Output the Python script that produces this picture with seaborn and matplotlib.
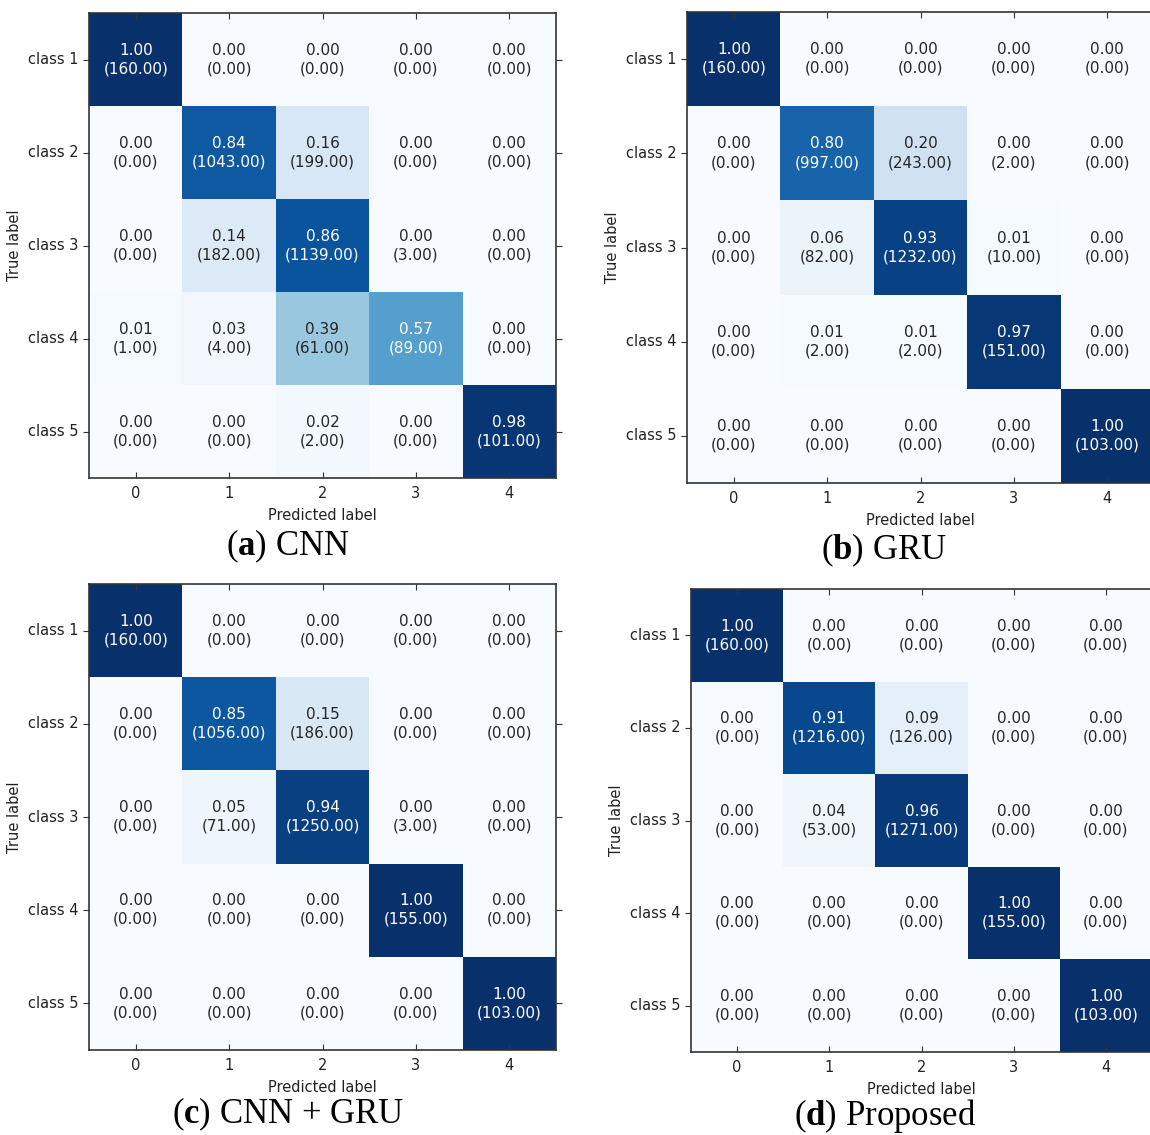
import numpy as np
import matplotlib
matplotlib.use("Agg")
import matplotlib.pyplot as plt
import seaborn as sns

# Data: normalized rates and raw counts for each model

class_names = ["class 1", "class 2", "class 3", "class 4", "class 5"]
pred_ticks = ["0", "1", "2", "3", "4"]

cnn_rate = [[1.00, 0.00, 0.00, 0.00, 0.00],
            [0.00, 0.84, 0.16, 0.00, 0.00],
            [0.00, 0.14, 0.86, 0.00, 0.00],
            [0.01, 0.03, 0.39, 0.57, 0.00],
            [0.00, 0.00, 0.02, 0.00, 0.98]]
cnn_count = [[160, 0, 0, 0, 0],
             [0, 1043, 199, 0, 0],
             [0, 182, 1139, 3, 0],
             [1, 4, 61, 89, 0],
             [0, 0, 2, 0, 101]]

gru_rate = [[1.00, 0.00, 0.00, 0.00, 0.00],
            [0.00, 0.80, 0.20, 0.00, 0.00],
            [0.00, 0.06, 0.93, 0.01, 0.00],
            [0.00, 0.01, 0.01, 0.97, 0.00],
            [0.00, 0.00, 0.00, 0.00, 1.00]]
gru_count = [[160, 0, 0, 0, 0],
             [0, 997, 243, 2, 0],
             [0, 82, 1232, 10, 0],
             [0, 2, 2, 151, 0],
             [0, 0, 0, 0, 103]]

cnngru_rate = [[1.00, 0.00, 0.00, 0.00, 0.00],
               [0.00, 0.85, 0.15, 0.00, 0.00],
               [0.00, 0.05, 0.94, 0.00, 0.00],
               [0.00, 0.00, 0.00, 1.00, 0.00],
               [0.00, 0.00, 0.00, 0.00, 1.00]]
cnngru_count = [[160, 0, 0, 0, 0],
                [0, 1056, 186, 0, 0],
                [0, 71, 1250, 3, 0],
                [0, 0, 0, 155, 0],
                [0, 0, 0, 0, 103]]

prop_rate = [[1.00, 0.00, 0.00, 0.00, 0.00],
             [0.00, 0.91, 0.09, 0.00, 0.00],
             [0.00, 0.04, 0.96, 0.00, 0.00],
             [0.00, 0.00, 0.00, 1.00, 0.00],
             [0.00, 0.00, 0.00, 0.00, 1.00]]
prop_count = [[160, 0, 0, 0, 0],
              [0, 1216, 126, 0, 0],
              [0, 53, 1271, 0, 0],
              [0, 0, 0, 155, 0],
              [0, 0, 0, 0, 103]]

panel_letters = ["a", "b", "c", "d"]
panel_names = ["CNN", "GRU", "CNN + GRU", "Proposed"]

# Layout in pixels: (left, top, width, height)
W, H = 1150, 1135
ax_boxes = [(89, 13, 467, 465), (687, 12, 467, 471),
            (89, 584, 467, 466), (691, 589, 461, 463)]
caption_pos = [(288, 546), (884, 550), (288, 1114), (885, 1116)]

plt.rcParams["mathtext.fontset"] = "custom"
plt.rcParams["mathtext.rm"] = "Liberation Serif"
plt.rcParams["mathtext.bf"] = "Liberation Serif:bold"

fig = plt.figure(figsize=(W / 100, H / 100), dpi=100)

panels = [(cnn_rate, cnn_count), (gru_rate, gru_count),
          (cnngru_rate, cnngru_count), (prop_rate, prop_count)]

for i, (rate, count) in enumerate(panels):
    x, y, w, h = ax_boxes[i]
    ax = fig.add_axes([x / W, 1 - (y + h) / H, w / W, h / H])
    rate = np.array(rate)
    count = np.array(count)
    labels = np.array([["{:.2f}\n({:.2f})".format(r, c) for r, c in zip(rr, cc)]
                       for rr, cc in zip(rate, count)])
    sns.heatmap(rate, annot=labels, fmt="", cmap="Blues", vmin=0, vmax=1,
                cbar=False, ax=ax, annot_kws={"fontsize": 11, "linespacing": 1.3})
    for s in ax.spines.values():
        s.set_visible(True)
        s.set_color("#333333")
        s.set_linewidth(1.2)
    ax.set_xticklabels(pred_ticks, rotation=0)
    ax.set_yticklabels(class_names, rotation=0)
    ax.tick_params(axis="x", direction="in", top=True, length=4, pad=6,
                   labelsize=10.5, colors="#333333", labelcolor="#222222")
    ax.tick_params(axis="y", direction="out", right=True, length=4,
                   labelsize=10.5, colors="#333333", labelcolor="#222222")
    ax.set_xlabel("Predicted label", fontsize=10.5, color="#222222", labelpad=5)
    ax.set_ylabel("True label", fontsize=10.5, color="#222222")

    cx, cy = caption_pos[i]
    fig.text(cx / W, 1 - cy / H,
             "(" + r"$\mathbf{" + panel_letters[i] + "}$" + ") " + panel_names[i],
             family="Liberation Serif", fontsize=25, ha="center", va="center")

fig.savefig("out.png", dpi=100, facecolor="white")
